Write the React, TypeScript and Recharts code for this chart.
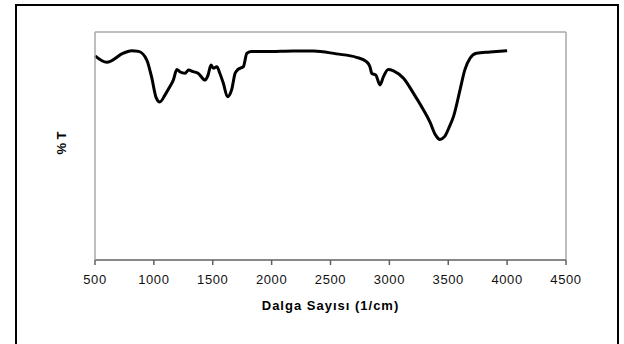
import { LineChart, Line, XAxis, YAxis, Label, ReferenceLine } from 'recharts'

// FTIR spectrum, wavenumber (1/cm) vs transmittance (%)
const WAVENUMBERS = [
  500, 600, 740, 810, 870, 940, 980, 1020, 1050, 1095, 1135, 1165, 1195, 1220,
  1265, 1295, 1335, 1375, 1435, 1460, 1485, 1505, 1535, 1560, 1590, 1625, 1660,
  1690, 1715, 1760, 1790, 1830, 1960, 2185, 2355, 2550, 2720, 2805, 2835, 2850,
  2885, 2920, 2950, 2990, 3035, 3120, 3205, 3290, 3345, 3390, 3430, 3470, 3510,
  3545, 3600, 3640, 3685, 3740, 3855, 4000,
]

const TRANSMITTANCE = [
  89.5, 86.7, 90.7, 91.8, 91.5, 87.7, 80.4, 71.1, 69.3, 72.4, 76.0, 78.9, 83.6, 82.6,
  81.9, 83.3, 82.6, 81.9, 78.9, 81.1, 85.5, 84.1, 84.8, 81.9, 77.5, 71.6, 74.6,
  81.9, 83.6, 84.8, 90.7, 91.4, 91.4, 91.7, 91.7, 90.4, 88.9, 87.0, 84.8, 81.9,
  81.1, 76.8, 80.4, 83.6, 83.0, 79.7, 73.1, 65.8, 60.5, 55.0, 52.9, 54.2, 58.5,
  63.0, 74.6, 83.3, 88.5, 90.7, 91.2, 91.8,
]

const X_TICKS = [500, 1000, 1500, 2000, 2500, 3000, 3500, 4000, 4500]

const data = WAVENUMBERS.map((w, i) => ({ w, t: TRANSMITTANCE[i] }))

const FONT = 'Arial, "Liberation Sans", sans-serif'
const FRAME = '#a8a8a8'

export default function App() {
  return (
    <div style={{ position: 'absolute', left: 0, top: 0, width: 624, height: 344, background: '#fff', overflow: 'hidden' }}>
      <div
        style={{
          position: 'absolute',
          left: 15,
          top: 4,
          width: 600,
          height: 360,
          border: '2px solid #000',
        }}
      />
      <div style={{ position: 'absolute', left: 0, top: 0 }}>
        <LineChart width={624} height={344} data={data} margin={{ top: 32, right: 58, bottom: 54, left: 15 }}>
          {/* plot area frame on top and right */}
          <ReferenceLine y={100} stroke={FRAME} strokeWidth={1.5} />
          <ReferenceLine x={4500} stroke={FRAME} strokeWidth={1.5} />
          <XAxis
            dataKey="w"
            type="number"
            domain={[500, 4500]}
            ticks={X_TICKS}
            height={30}
            axisLine={{ stroke: '#606060', strokeWidth: 1.5 }}
            tickLine={{ stroke: '#606060', strokeWidth: 1.5 }}
            tickSize={5}
            tickMargin={10}
            tick={{ fill: '#111', fontSize: 13, fontFamily: FONT, letterSpacing: 0.6 }}
          >
            <Label
              content={({ viewBox }: any) => (
                <text
                  x={viewBox.x + viewBox.width / 2}
                  y={310}
                  textAnchor="middle"
                  fontFamily={FONT}
                  fontSize={13}
                  fontWeight="bold"
                  letterSpacing={1}
                  fill="#000"
                >
                  Dalga Sayısı (1/cm)
                </text>
              )}
            />
          </XAxis>
          <YAxis
            domain={[0, 100]}
            width={80}
            tick={false}
            tickLine={false}
            axisLine={{ stroke: FRAME, strokeWidth: 1.5 }}
          >
            <Label
              content={({ viewBox }: any) => {
                const cx = 61
                const cy = viewBox.y + viewBox.height / 2 - 3
                return (
                  <text
                    x={cx}
                    y={cy}
                    transform={`rotate(-90 ${cx} ${cy})`}
                    textAnchor="middle"
                    dominantBaseline="central"
                    fontFamily={FONT}
                    fontSize={13}
                    fontWeight="bold"
                    fill="#000"
                  >
                    % T
                  </text>
                )
              }}
            />
          </YAxis>
          <Line
            dataKey="t"
            type="monotone"
            stroke="#000"
            strokeWidth={3}
            dot={false}
            isAnimationActive={false}
          />
        </LineChart>
      </div>
    </div>
  )
}
